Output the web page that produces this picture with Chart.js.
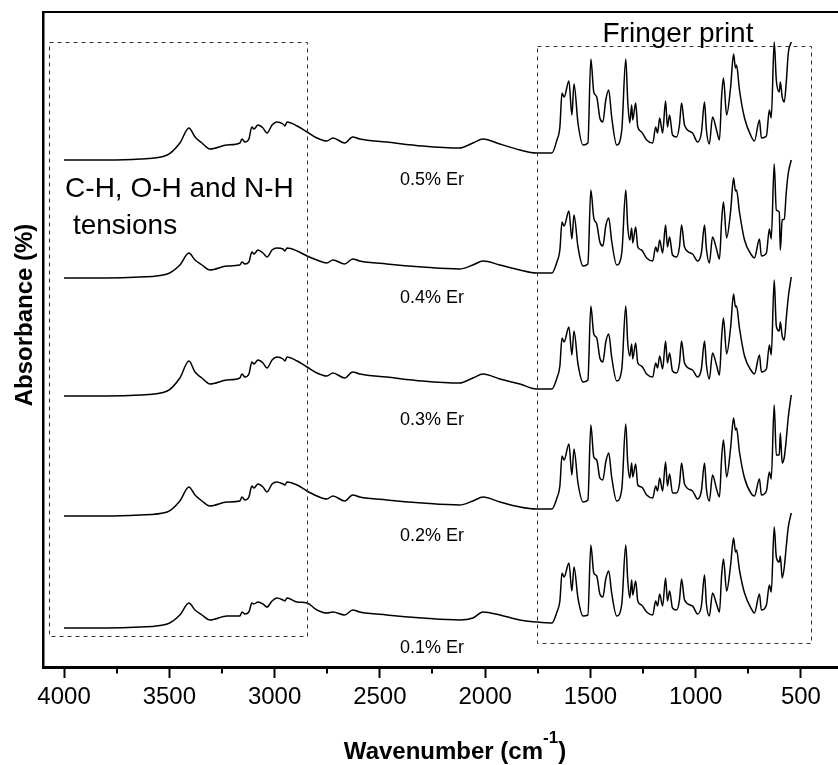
<!DOCTYPE html>
<html>
<head>
<meta charset="utf-8">
<script src="https://cdn.jsdelivr.net/npm/chart.js@4.4.1/dist/chart.umd.min.js"></script>
<style>
  body { margin: 0; background: #fff; }
</style>
</head>
<body>
<canvas id="ftir" width="838" height="765"></canvas>
<script>
// wavenumber (cm-1) of each sampled point, same for every spectrum
const wavenumbers = [4000, 3800, 3640, 3510, 3450, 3407, 3378, 3345, 3307, 3226,
  3165, 3155, 3141, 3122, 3108, 3098, 3079, 3055, 3036, 3012,
  2989, 2960, 2951, 2941, 2893, 2846, 2799, 2752, 2723, 2667,
  2629, 2596, 2468, 2298, 2122, 2058, 2010, 1930, 1835, 1757,
  1683, 1659, 1645, 1635, 1625, 1602, 1588, 1578, 1559, 1535,
  1512, 1498, 1484, 1470, 1455, 1441, 1427, 1413, 1399, 1375,
  1351, 1332, 1323, 1313, 1304, 1299, 1285, 1275, 1257, 1233,
  1204, 1190, 1181, 1171, 1157, 1143, 1134, 1124, 1110, 1091,
  1077, 1067, 1053, 1015, 991, 973, 958, 949, 935, 920,
  901, 887, 877, 868, 853, 834, 820, 811, 806, 792,
  768, 735, 721, 697, 688, 664, 650, 641, 627, 617,
  603, 598, 589, 579, 570, 560, 546];

// absorbance (a.u., already stacked as plotted)
const er01 = [39, 39, 40, 43, 52, 64, 57, 52, 47, 51,
  51, 55, 53, 55, 64, 63, 65, 63, 60, 66,
  69, 67, 66, 69, 65, 64, 57, 54, 55, 52,
  57, 55, 52, 49, 47, 49, 55, 52, 47, 45,
  44, 55, 66, 94, 90, 104, 76, 100, 69, 51,
  52, 122, 94, 91, 73, 70, 88, 96, 74, 51,
  63, 122, 88, 69, 87, 72, 86, 66, 62, 55,
  52, 66, 61, 73, 61, 89, 66, 76, 59, 57,
  67, 88, 67, 61, 53, 61, 92, 63, 51, 74,
  63, 55, 91, 108, 76, 102, 129, 115, 117, 97,
  74, 58, 54, 73, 57, 62, 82, 75, 140, 110,
  105, 111, 89, 100, 120, 140, 154];

const er02 = [151, 151, 152, 155, 166, 180, 172, 166, 161, 165,
  166, 170, 167, 170, 181, 179, 183, 180, 175, 183,
  185, 183, 182, 185, 182, 176, 171, 168, 171, 166,
  172, 170, 167, 164, 162, 166, 170, 165, 160, 158,
  158, 169, 181, 211, 207, 223, 192, 218, 184, 165,
  167, 242, 210, 207, 189, 187, 205, 214, 190, 166,
  178, 243, 205, 189, 204, 190, 203, 182, 180, 172,
  169, 181, 176, 189, 176, 205, 181, 193, 174, 174,
  183, 204, 183, 176, 168, 176, 204, 178, 166, 192,
  178, 170, 208, 227, 190, 219, 249, 237, 239, 215,
  189, 173, 171, 188, 172, 176, 195, 188, 262, 212,
  212, 234, 204, 210, 227, 250, 272];

const er03 = [271, 271, 272, 276, 289, 306, 295, 289, 283, 287,
  289, 293, 290, 293, 305, 303, 307, 304, 299, 307,
  310, 308, 306, 310, 306, 300, 294, 291, 294, 289,
  295, 293, 290, 286, 284, 289, 293, 288, 283, 278,
  278, 289, 301, 329, 325, 340, 312, 336, 303, 285,
  287, 361, 333, 329, 309, 305, 325, 333, 310, 286,
  298, 361, 325, 311, 323, 308, 324, 304, 301, 293,
  290, 304, 299, 311, 298, 326, 304, 314, 296, 294,
  304, 326, 304, 297, 290, 298, 326, 302, 288, 314,
  302, 292, 329, 349, 313, 340, 373, 360, 361, 339,
  311, 296, 293, 312, 295, 298, 322, 312, 387, 341,
  336, 345, 331, 327, 348, 370, 390];

const er04 = [389, 389, 390, 393, 402, 414, 407, 402, 397, 401,
  402, 405, 403, 405, 415, 413, 417, 414, 410, 417,
  419, 418, 416, 419, 416, 411, 407, 404, 407, 403,
  408, 406, 403, 400, 398, 402, 406, 402, 397, 394,
  394, 405, 417, 445, 441, 456, 428, 452, 420, 401,
  403, 477, 449, 443, 425, 421, 441, 449, 426, 402,
  414, 477, 441, 427, 439, 424, 440, 420, 417, 409,
  406, 420, 415, 427, 414, 442, 420, 430, 412, 410,
  420, 442, 420, 413, 406, 414, 442, 418, 404, 430,
  418, 408, 445, 465, 429, 456, 489, 476, 477, 455,
  427, 412, 409, 428, 411, 414, 438, 428, 503, 457,
  455, 417, 447, 448, 474, 494, 507];

const er05 = [507, 507, 508, 512, 524, 539, 530, 524, 518, 522,
  524, 528, 525, 528, 540, 538, 542, 539, 534, 542,
  545, 543, 541, 545, 541, 535, 529, 526, 529, 524,
  530, 528, 525, 521, 519, 524, 528, 523, 517, 514,
  514, 527, 540, 574, 570, 586, 552, 583, 544, 522,
  524, 608, 575, 570, 549, 545, 567, 577, 550, 522,
  537, 608, 567, 544, 562, 547, 564, 540, 535, 527,
  524, 540, 534, 549, 534, 566, 540, 552, 532, 530,
  542, 564, 542, 534, 525, 534, 565, 537, 523, 550,
  537, 527, 570, 589, 552, 580, 613, 599, 602, 577,
  549, 530, 526, 547, 529, 531, 557, 549, 625, 587,
  575, 585, 570, 565, 584, 614, 625];

const seriesNames = ['0.1% Er', '0.2% Er', '0.3% Er', '0.4% Er', '0.5% Er'];
const seriesValues = [er01, er02, er03, er04, er05];

const xTickValues = [4000, 3500, 3000, 2500, 2000, 1500, 1000, 500];
const xMinorTicks = [3750, 3250, 2750, 2250, 1750, 1250, 750];

const FONT = 'Arial, "Liberation Sans", sans-serif';

// where the sample names sit (wavenumber, absorbance of the text baseline)
const nameSpots = [14, 126, 242, 364, 482];
const nameAt = 2252;

// dashed region boxes, in axis units
const regions = [
  { from: 4071, to: 2846, low: 31, high: 625 },
  { from: 1754, to: 452, low: 24, high: 621 }
];

const decorations = {
  id: 'decorations',
  afterDraw(chart) {
    const { ctx, chartArea: a, scales: { x, y } } = chart;
    ctx.save();

    // top frame
    ctx.strokeStyle = '#000';
    ctx.lineWidth = 2;
    ctx.beginPath();
    ctx.moveTo(a.left, a.top);
    ctx.lineTo(a.right, a.top);
    ctx.stroke();

    // minor ticks
    xMinorTicks.forEach(v => {
      const px = Math.round(x.getPixelForValue(v));
      ctx.beginPath();
      ctx.moveTo(px, a.bottom);
      ctx.lineTo(px, a.bottom + 6.5);
      ctx.stroke();
    });

    // dashed boxes
    ctx.strokeStyle = '#333';
    ctx.lineWidth = 1;
    ctx.setLineDash([4, 4]);
    regions.forEach(r => {
      const x1 = Math.round(x.getPixelForValue(r.from)) + 0.5;
      const x2 = Math.round(x.getPixelForValue(r.to)) + 0.5;
      const y1 = Math.round(y.getPixelForValue(r.high)) + 0.5;
      const y2 = Math.round(y.getPixelForValue(r.low)) + 0.5;
      ctx.strokeRect(x1, y1, x2 - x1, y2 - y1);
    });
    ctx.setLineDash([]);

    ctx.fillStyle = '#000';
    ctx.textBaseline = 'alphabetic';

    // sample names
    ctx.font = '18px ' + FONT;
    ctx.textAlign = 'center';
    seriesNames.forEach((n, i) => {
      ctx.fillText(n, x.getPixelForValue(nameAt), y.getPixelForValue(nameSpots[i]));
    });

    // region captions
    ctx.font = '28px ' + FONT;
    ctx.fillText('Fringer print', x.getPixelForValue(1084), y.getPixelForValue(625));
    ctx.textAlign = 'left';
    ctx.fillText('C-H, O-H and N-H', x.getPixelForValue(3995), y.getPixelForValue(470));
    ctx.fillText(' tensions', x.getPixelForValue(3995), y.getPixelForValue(433));

    // x title with superscript
    const main = 'Wavenumber (cm', sup = '-1', close = ')';
    ctx.font = 'bold 24px ' + FONT;
    const w1 = ctx.measureText(main).width, w3 = ctx.measureText(close).width;
    ctx.font = 'bold 17px ' + FONT;
    const w2 = ctx.measureText(sup).width;
    let sx = 455 - (w1 + w2 + w3) / 2;
    ctx.font = 'bold 24px ' + FONT;
    ctx.fillText(main, sx, 759);
    ctx.font = 'bold 17px ' + FONT;
    ctx.fillText(sup, sx + w1, 743);
    ctx.font = 'bold 24px ' + FONT;
    ctx.fillText(close, sx + w1 + w2, 759);

    // y title
    ctx.translate(32, 315);
    ctx.rotate(-Math.PI / 2);
    ctx.textAlign = 'center';
    ctx.fillText('Absorbance (%)', 0, 0);

    ctx.restore();
  }
};

new Chart(document.getElementById('ftir'), {
  type: 'line',
  data: {
    datasets: seriesNames.map((name, i) => ({
      label: name,
      data: wavenumbers.map((w, k) => ({ x: w, y: seriesValues[i][k] })),
      borderColor: '#000',
      borderWidth: 1.5,
      pointRadius: 0,
      cubicInterpolationMode: 'monotone',
      fill: false
    }))
  },
  options: {
    responsive: false,
    animation: false,
    layout: { padding: { top: 12, right: 0, bottom: 0, left: 0 } },
    plugins: {
      legend: { display: false },
      tooltip: { enabled: false }
    },
    scales: {
      x: {
        type: 'linear',
        reverse: true,
        min: 324,
        max: 4100,
        afterBuildTicks: s => { s.ticks = xTickValues.map(v => ({ value: v })); },
        afterFit: s => { s.height = 98; },
        ticks: {
          color: '#000',
          font: { family: FONT, size: 24 },
          padding: 5,
          maxRotation: 0,
          autoSkip: false,
          callback: v => String(v)
        },
        grid: {
          display: true,
          drawOnChartArea: false,
          drawTicks: true,
          tickLength: 11,
          tickWidth: 2,
          tickColor: '#000'
        },
        border: { display: true, width: 3, color: '#000' }
      },
      y: {
        min: 0,
        max: 655,
        afterFit: s => { s.width = 43; },
        ticks: { display: false },
        grid: { display: false, drawTicks: false },
        border: { display: true, width: 2.5, color: '#000' }
      }
    }
  },
  plugins: [decorations]
});
</script>
</body>
</html>
